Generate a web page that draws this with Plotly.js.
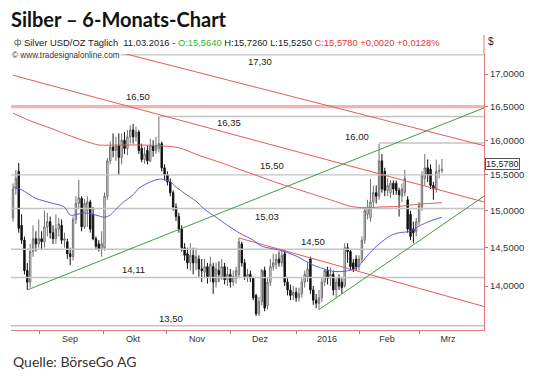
<!DOCTYPE html>
<html><head><meta charset="utf-8">
<script src="https://cdn.plot.ly/plotly-3.0.1.min.js"></script>
<style>html,body{margin:0;padding:0;background:#fff;}#chart{width:540px;height:385px;}</style>
</head><body><div id="chart"></div>
<script>
// ---- Daily OHLC, Silver USD/OZ (trading-day order, last = 11.03.2016) ----
const open = [14.90,15.30,15.55,14.80,14.60,14.20,14.05,14.45,14.62,14.55,14.62,14.58,14.78,14.85,14.70,14.62,14.75,14.80,14.60,14.58,
14.42,14.38,14.88,15.10,15.17,14.78,15.00,15.12,14.95,14.62,14.55,14.48,14.50,15.20,15.70,15.90,15.85,15.92,15.75,16.00,
15.88,16.05,16.15,16.05,16.12,15.88,15.72,15.85,15.70,15.92,15.85,15.88,15.95,15.60,15.50,15.40,15.25,15.05,14.92,14.75,
14.50,14.42,14.30,14.40,14.30,14.35,14.22,14.18,14.25,14.12,14.25,14.05,14.20,14.12,14.25,14.08,14.15,14.05,14.10,14.15,
14.55,14.30,14.12,14.15,14.10,13.88,13.65,13.80,14.20,13.75,14.05,14.25,14.28,14.35,14.30,14.42,14.05,13.95,13.88,13.92,
13.85,13.90,14.05,14.12,14.35,13.95,13.82,13.78,13.85,14.05,14.20,14.10,14.15,13.95,14.10,14.05,14.00,14.50,14.45,14.30,
14.35,14.25,14.35,14.60,14.95,14.90,15.12,15.25,15.20,15.70,15.55,15.28,15.25,15.38,15.38,15.28,15.20,15.25,15.15,14.95,
14.75,14.72,14.85,15.05,15.45,15.60,15.58,15.35,15.30,15.55,15.564];
const high = [15.38,15.57,15.67,14.95,14.65,14.30,14.55,14.80,14.72,14.88,14.72,15.00,14.97,14.92,14.80,14.95,14.90,14.88,14.70,14.62,
14.50,14.92,15.20,15.43,15.20,15.16,15.20,15.15,15.05,14.65,14.60,14.72,15.25,15.74,15.98,16.10,16.05,16.10,16.10,16.12,
16.15,16.22,16.24,16.20,16.15,15.95,15.90,15.92,16.02,16.00,16.05,16.35,15.98,15.65,15.55,15.45,15.28,15.10,14.97,14.80,
14.56,14.50,14.56,14.50,14.50,14.40,14.35,14.35,14.30,14.38,14.30,14.30,14.32,14.35,14.30,14.25,14.22,14.20,14.25,14.63,
14.58,14.35,14.22,14.20,14.12,13.90,13.86,14.22,14.25,14.10,14.35,14.42,14.42,14.45,14.47,14.47,14.10,14.02,14.00,13.98,
13.98,14.10,14.20,14.30,14.38,14.00,13.90,13.95,14.10,14.22,14.25,14.24,14.20,14.10,14.15,14.10,14.56,14.56,14.48,14.35,
14.40,14.40,14.65,15.05,15.15,15.44,15.35,15.35,15.95,15.80,15.60,15.45,15.42,15.42,15.42,15.32,15.38,15.57,15.20,15.00,
14.85,14.90,15.12,15.55,15.80,15.72,15.65,15.40,15.72,15.65,15.726];
const low = [14.85,15.22,14.70,14.55,14.15,13.95,13.98,14.38,14.45,14.50,14.48,14.50,14.65,14.62,14.55,14.55,14.65,14.55,14.50,14.35,
14.27,14.33,14.82,15.02,14.72,14.75,14.78,14.70,14.60,14.48,14.45,14.38,14.46,15.15,15.65,15.75,15.70,15.50,15.65,15.80,
15.78,15.95,15.95,15.98,15.80,15.68,15.66,15.65,15.68,15.76,15.80,15.82,15.55,15.42,15.35,15.20,15.00,14.86,14.70,14.45,
14.33,14.22,14.20,14.15,14.20,14.12,14.05,14.10,14.03,14.05,13.90,13.98,14.05,14.08,14.02,14.00,13.98,14.00,14.03,14.10,
14.25,14.08,14.05,14.05,13.82,13.62,13.62,13.75,13.68,13.70,14.00,14.20,14.22,14.25,14.25,14.00,13.88,13.82,13.82,13.80,
13.80,13.85,13.98,14.05,13.90,13.76,13.72,13.70,13.80,14.00,14.02,14.00,13.88,13.85,13.95,13.90,13.98,14.30,14.20,14.18,
14.20,14.20,14.30,14.55,14.88,14.85,15.05,15.10,15.15,15.25,15.20,15.20,15.18,15.22,15.22,14.92,15.12,15.20,14.70,14.60,
14.56,14.65,14.80,15.00,15.35,15.40,15.30,15.15,15.25,15.45,15.525];
const close = [15.30,15.45,14.76,14.60,14.20,14.05,14.45,14.62,14.55,14.62,14.58,14.78,14.85,14.70,14.62,14.75,14.82,14.60,14.62,14.42,
14.38,14.88,15.10,15.18,14.78,15.10,15.12,14.75,14.62,14.52,14.48,14.55,15.20,15.70,15.90,15.85,15.92,15.75,16.00,15.88,
16.05,16.15,16.05,16.12,15.85,15.72,15.80,15.70,15.92,15.85,15.92,15.95,15.60,15.50,15.40,15.25,15.05,14.92,14.75,14.50,
14.40,14.30,14.40,14.30,14.38,14.22,14.20,14.25,14.12,14.28,14.05,14.22,14.15,14.25,14.08,14.15,14.05,14.12,14.20,14.58,
14.30,14.12,14.15,14.10,13.85,13.65,13.80,14.20,13.72,14.05,14.25,14.30,14.35,14.30,14.40,14.05,13.95,13.88,13.92,13.85,
13.90,14.05,14.15,14.22,13.95,13.82,13.78,13.85,14.05,14.20,14.10,14.15,13.95,14.05,14.00,13.98,14.50,14.45,14.25,14.22,
14.25,14.35,14.60,15.00,15.05,15.12,15.25,15.20,15.70,15.30,15.28,15.35,15.38,15.30,15.28,15.22,15.30,15.45,14.75,14.65,
14.70,14.85,15.08,15.50,15.60,15.50,15.35,15.30,15.55,15.56,15.578];

// ---- Indicators (candle index -> value) ----
const maBlueIdx = [0,3,8,13,18,20,25,29,32,34,36,39,42,44,47,50,52,55,57,60,64,67,71,75,79,84,87,93,99,105,112,116,120,122,125,128,132,135,139,142,146,150];
const maBlueVal = [15.33,15.29,15.17,15.11,15.05,14.94,14.97,14.94,14.91,14.94,15.02,15.13,15.22,15.31,15.38,15.43,15.44,15.40,15.33,15.24,15.13,15.02,14.91,14.80,14.70,14.60,14.52,14.47,14.39,14.27,14.19,14.19,14.23,14.31,14.44,14.55,14.66,14.70,14.72,14.79,14.86,14.91];
const maRedIdx = [0,7,13,19,25,30,37,44,51,58,65,73,79,86,93,100,111,118,123,128,135,142,150];
const maRedVal = [16.40,16.27,16.18,16.08,15.99,15.93,15.93,15.93,15.92,15.89,15.78,15.67,15.58,15.48,15.38,15.29,15.15,15.06,15.04,15.05,15.06,15.09,15.11];

// ---- Trend lines (from candle idx/value to idx/value) ----
const trendFromIdx = [0, 0, 79, 5, 107];
const trendFromVal = [17.78, 16.98, 14.63, 13.95, 13.70];
const trendToIdx   = [164.7, 164.7, 164.7, 164.7, 164.7];
const trendToVal   = [15.92, 15.12, 13.74, 16.48, 15.20];
const trendKind    = ['res', 'res', 'res', 'sup', 'sup'];

// ---- Horizontal levels ----
const levelValues = [17.30, 16.35, 15.96, 15.50, 15.03, 14.48, 14.11, 13.50];
const levelLabels = ['17,30', '16,35', '16,00', '15,50', '15,03', '14,50', '14,11', '13,50'];
const levelFrom   = [-0.7, 51, 128, -0.7, -0.7, -0.7, -0.7, -0.7];
const keyLevel = 16.50, keyLabel = '16,50';

// ---- Axis labels ----
const monthNames = ['Sep', 'Okt', 'Nov', 'Dez', '2016', 'Feb', 'Mrz'];
const priceTicks = [14, 14.5, 15, 15.5, 16, 16.5, 17];
const priceTickText = ['14,0000', '14,5000', '15,0000', '15,5000', '16,0000', '16,5000', '17,0000'];

// ---------------- layout config (positions / styles) ----------------
const XMIN = -0.7, XMAX = 164.7;
const monthLabelPos = [19.9, 42, 64.3, 86.4, 109.8, 130.8, 152.1];
const monthStartPos = [9.4, 31.5, 53.8, 75.9, 99.3, 121.3, 142.0];
const levelLabelPos = [86.4, 75.5, 120.3, 90.6, 88.8, 104.9, 42, 55.2];
const levelLabelShift = [-7, -6, 6, 9, -8, 8, 8, 7];
const keyLabelPos = 43.7, keyLabelShift = 10;

const NUMFONT = 'Liberation Sans, Arial, sans-serif';
const RED = '#e25c5c', AXISRED = '#e07a7a', GRAY = '#c4c4c4';

const idx = open.map((_, i) => i);
const traces = [];

// horizontal gray levels
levelValues.forEach((v, k) => {
  traces.push({type:'scatter', mode:'lines', x:[levelFrom[k], XMAX], y:[v, v],
    line:{color:GRAY, width:1.4}, hoverinfo:'skip', showlegend:false});
});
// key level band
traces.push({type:'scatter', mode:'lines', x:[XMIN, XMAX], y:[keyLevel, keyLevel],
  line:{color:'rgba(236,130,130,0.6)', width:3.2}, hoverinfo:'skip', showlegend:false});

// trend lines
trendFromIdx.forEach((x0, k) => {
  traces.push({type:'scatter', mode:'lines', x:[x0, trendToIdx[k]], y:[trendFromVal[k], trendToVal[k]],
    line:{color: trendKind[k] === 'res' ? RED : '#3f9c3f', width:1}, hoverinfo:'skip', showlegend:false});
});

// moving averages
traces.push({type:'scatter', mode:'lines', x:maRedIdx, y:maRedVal, line:{color:RED, width:1, shape:'spline', smoothing:0.8}, hoverinfo:'skip', showlegend:false});
traces.push({type:'scatter', mode:'lines', x:maBlueIdx, y:maBlueVal, line:{color:'#5b5bde', width:1, shape:'spline', smoothing:0.8}, hoverinfo:'skip', showlegend:false});

// candles
traces.push({type:'candlestick', x:idx, open:open, high:high, low:low, close:close,
  increasing:{line:{color:'#6e6e6e', width:1}, fillcolor:'#ffffff'},
  decreasing:{line:{color:'#111111', width:1}, fillcolor:'#111111'},
  whiskerwidth:0, hoverinfo:'skip', showlegend:false});

const annotations = [];
levelValues.forEach((v, k) => {
  annotations.push({x:levelLabelPos[k], y:Math.log10(v), xref:'x', yref:'y', text:levelLabels[k],
    showarrow:false, yshift:levelLabelShift[k], font:{family:NUMFONT, size:9.5, color:'#222'}});
});
annotations.push({x:keyLabelPos, y:Math.log10(keyLevel), xref:'x', yref:'y', text:keyLabel,
  showarrow:false, yshift:keyLabelShift, font:{family:NUMFONT, size:9.5, color:'#222'}});

const last = close[close.length - 1], lastO = open[open.length-1], lastH = high[high.length-1], lastL = low[low.length-1];
const fmt = (v, d) => v.toFixed(d).replace('.', ',');
annotations.push({x:1, xref:'paper', xanchor:'left', xshift:1, y:Math.log10(last), yref:'y', yshift:5,
  text:fmt(last,4), showarrow:false, bgcolor:'#ffffff', bordercolor:'#555', borderwidth:1, borderpad:0,
  font:{family:NUMFONT, size:9, color:'#222'}});

const PLOT_TOP = 54, PLOT_BOT = 330, PH = PLOT_BOT - PLOT_TOP;
const py = (pix) => (PLOT_BOT - pix) / PH;
annotations.push({xref:'paper', yref:'paper', x:0, xanchor:'left', xshift:1, y:py(42), yanchor:'middle', showarrow:false,
  text:'ф', font:{family:NUMFONT, size:9, color:'#555'}});
annotations.push({xref:'paper', yref:'paper', x:0, xanchor:'left', xshift:11, y:py(42), yanchor:'middle', showarrow:false,
  text:'Silver USD/OZ Täglich  11.03.2016 - <span style="color:#2db82d">O:' + fmt(lastO,4) + '</span> H:' + fmt(lastH,4) +
  ' L:' + fmt(lastL,4) + ' <span style="color:#e8363b">C:' + fmt(last,4) + ' +0,0020 +0,0128%</span>',
  font:{family:NUMFONT, size:9.4, color:'#222'}});
annotations.push({xref:'paper', yref:'paper', x:0, xanchor:'left', xshift:0, y:py(55), yanchor:'middle', showarrow:false,
  text:'© www.tradesignalonline.com', bgcolor:'#ffffff', borderpad:0, font:{family:NUMFONT, size:8.2, color:'#333'}});
annotations.push({xref:'paper', yref:'paper', x:1, xanchor:'left', xshift:2, y:py(41), yanchor:'middle', showarrow:false,
  text:'$', font:{family:NUMFONT, size:10, color:'#222'}});
annotations.push({xref:'paper', yref:'paper', x:0, xanchor:'left', xshift:0, y:py(361), yanchor:'middle', showarrow:false,
  text:'Quelle: BörseGo AG', font:{family:'Lato, sans-serif', size:14, color:'#333'}});

const layout = {
  width:540, height:385,
  margin:{l:11, r:56, t:PLOT_TOP, b:385 - PLOT_BOT, pad:0},
  paper_bgcolor:'#ffffff', plot_bgcolor:'#ffffff',
  showlegend:false,
  title:{text:'<b>Silber – 6-Monats-Chart</b>', xref:'container', yref:'container', x:11/540, xanchor:'left',
    y:1 - 20/385, yanchor:'middle', font:{family:'Lato, sans-serif', size:20, color:'#111'}},
  xaxis:{range:[XMIN, XMAX], tickmode:'array', tickvals:monthLabelPos, ticktext:monthNames, ticks:'',
    showline:true, linecolor:AXISRED, linewidth:1, showgrid:false, zeroline:false, fixedrange:true,
    tickfont:{family:NUMFONT, size:9, color:'#333'}, rangeslider:{visible:false},
    minor:{tickmode:'array', tickvals:monthStartPos, ticks:'outside', ticklen:3, tickcolor:'#888', tickwidth:1, showgrid:false}},
  yaxis:{type:'log', side:'right', range:[Math.log10(13.4473), Math.log10(17.3142)], tickmode:'array',
    tickvals:priceTicks, ticktext:priceTickText, ticks:'outside', ticklen:3, tickcolor:'#888',
    showline:true, linecolor:AXISRED, linewidth:1, showgrid:false, zeroline:false, fixedrange:true,
    tickfont:{family:NUMFONT, size:9.5, color:'#333'}},
  shapes:[{type:'line', xref:'paper', yref:'paper', x0:1, x1:1, y0:1, y1:py(35), line:{color:AXISRED, width:1}}],
  annotations:annotations
};

Plotly.newPlot('chart', traces, layout, {staticPlot:true, displayModeBar:false});
</script></body></html>
